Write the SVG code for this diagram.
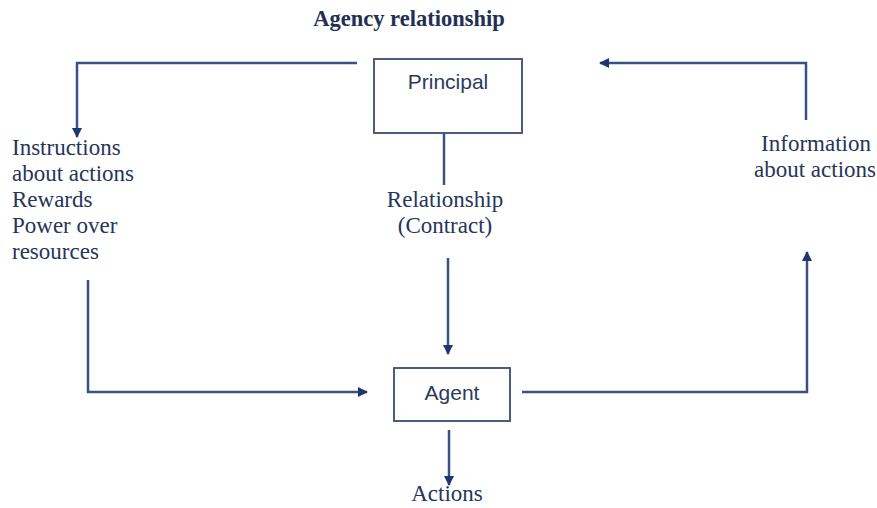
<svg xmlns="http://www.w3.org/2000/svg" width="877" height="508" viewBox="0 0 877 508">
<style>
.lbl{font-family:"Liberation Serif","Times New Roman",serif;font-size:23px;fill:#27355a}
.title{font-family:"Liberation Serif","Times New Roman",serif;font-size:22.5px;font-weight:bold;fill:#232f55}
.box{fill:#ffffff;stroke:#4b5d7e;stroke-width:2}
.btxt{font-family:"Liberation Sans",Arial,sans-serif;font-size:21px;fill:#2c3a5c;text-anchor:middle}
.ln{fill:none;stroke:#3a5283;stroke-width:2.5}
</style>
<defs>
<marker id="ah" viewBox="0 0 10 10" refX="9" refY="5" markerWidth="4" markerHeight="4" orient="auto" markerUnits="strokeWidth">
<path d="M0,0 L10,5 L0,10 z" fill="#1f3770"/>
</marker>
</defs>
<rect width="877" height="508" fill="#ffffff"/>
<text class="title" x="409" y="26" text-anchor="middle">Agency relationship</text>
<g id="principal">
<rect class="box" x="374" y="59" width="148" height="74"/>
<text class="btxt" x="448" y="89">Principal</text>
</g>
<g id="agent">
<rect class="box" x="394" y="368" width="116" height="53"/>
<text class="btxt" x="452" y="400">Agent</text>
</g>
<g id="instructions">
<text class="lbl" x="12" y="155">Instructions</text>
<text class="lbl" x="12" y="181">about actions</text>
<text class="lbl" x="12" y="207">Rewards</text>
<text class="lbl" x="12" y="233">Power over</text>
<text class="lbl" x="12" y="259">resources</text>
</g>
<g id="relationship">
<text class="lbl" x="445" y="207" text-anchor="middle">Relationship</text>
<text class="lbl" x="445" y="233" text-anchor="middle">(Contract)</text>
</g>
<g id="information">
<text class="lbl" x="816" y="151" text-anchor="middle">Information</text>
<text class="lbl" x="815" y="177" text-anchor="middle">about actions</text>
</g>
<g id="actions">
<text class="lbl" x="447" y="501" text-anchor="middle">Actions</text>
</g>
<g id="connectors">
<path class="ln" d="M357,63 H77 V137" marker-end="url(#ah)"/>
<path class="ln" d="M444,133 V185"/>
<path class="ln" d="M448,258 V354" marker-end="url(#ah)"/>
<path class="ln" d="M88,280 V392 H367" marker-end="url(#ah)"/>
<path class="ln" d="M522,392 H807 V252" marker-end="url(#ah)"/>
<path class="ln" d="M806,120 V63 H600" marker-end="url(#ah)"/>
<path class="ln" d="M449,430 V485" marker-end="url(#ah)"/>
</g>
</svg>
